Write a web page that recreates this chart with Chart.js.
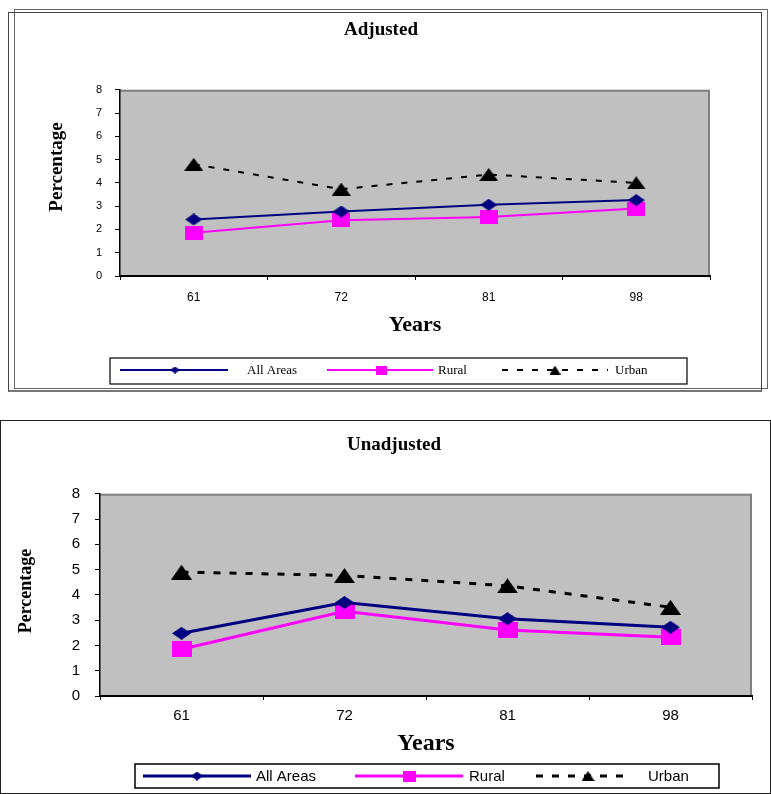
<!DOCTYPE html>
<html>
<head>
<meta charset="utf-8">
<script src="https://cdn.jsdelivr.net/npm/chart.js@4.4.0/dist/chart.umd.min.js"></script>
<style>
  body { margin: 0; background: #fff; width: 771px; height: 794px; position: relative; overflow: hidden; }
  .frame { position: absolute; box-sizing: border-box; }
  .holder { position: absolute; }
</style>
</head>
<body>
<div class="frame" style="left:14px;top:9px;width:754px;height:380px;border:1px solid #666;"></div>
<div class="frame" style="left:8px;top:12px;width:754px;height:380px;border:1px solid #444;border-bottom:2px solid #777;"></div>
<div class="holder" style="left:15px;top:13px;"><canvas id="adj" width="697" height="376"></canvas></div>

<div class="frame" style="left:0;top:420px;width:771px;height:374px;border:1.5px solid #222;"></div>
<div class="holder" style="left:2px;top:422px;"><canvas id="unadj" width="752" height="370"></canvas></div>

<script>
'use strict';

// years on the x axis
const years = ['61', '72', '81', '98'];
const seriesNames = ['All Areas', 'Rural', 'Urban'];

// Adjusted (%)
const adjAll   = [2.43, 2.77, 3.06, 3.26];
const adjRural = [1.86, 2.40, 2.54, 2.90];
const adjUrban = [4.80, 3.73, 4.36, 4.00];

// Unadjusted (%)
const unAll   = [2.48, 3.70, 3.06, 2.72];
const unRural = [1.85, 3.35, 2.61, 2.32];
const unUrban = [4.90, 4.77, 4.36, 3.51];

const NAVY = '#000080', PINK = '#FF00FF', BLACK = '#000000';
const SERIF = '"Liberation Serif", "Times New Roman", serif';
const SANS  = '"Liberation Sans", Arial, sans-serif';

// excel-like markers, a bit wider than tall
function marker(kind, w, h, color) {
  const c = document.createElement('canvas');
  c.width = w; c.height = h;
  const x = c.getContext('2d');
  x.fillStyle = color;
  x.beginPath();
  if (kind === 'diamond') {
    x.moveTo(w / 2, 0); x.lineTo(w, h / 2); x.lineTo(w / 2, h); x.lineTo(0, h / 2);
  } else if (kind === 'square') {
    x.rect(0, 0, w, h);
  } else {
    x.moveTo(w / 2, 0); x.lineTo(w, h); x.lineTo(0, h);
  }
  x.closePath();
  x.fill();
  return c;
}

// grey plot area with grey top/right edge
const plotBg = {
  id: 'plotBg',
  beforeDraw(chart) {
    const { ctx, chartArea: a } = chart;
    ctx.save();
    ctx.fillStyle = '#C0C0C0';
    ctx.fillRect(a.left, a.top, a.right - a.left, a.bottom - a.top);
    ctx.strokeStyle = '#808080';
    ctx.lineWidth = 2;
    ctx.beginPath();
    ctx.moveTo(a.left, a.top + 1);
    ctx.lineTo(a.right - 1, a.top + 1);
    ctx.lineTo(a.right - 1, a.bottom);
    ctx.stroke();
    ctx.restore();
  }
};

// rotated y title + boxed legend, drawn after the chart
function extras(cfg) {
  return {
    id: 'extras',
    afterDraw(chart) {
      const ctx = chart.ctx;
      ctx.save();
      // y title
      ctx.translate(cfg.yTitle.x, cfg.yTitle.y);
      ctx.rotate(-Math.PI / 2);
      ctx.font = cfg.yTitle.font;
      ctx.fillStyle = '#000';
      ctx.textAlign = 'center';
      ctx.textBaseline = 'middle';
      ctx.fillText('Percentage', 0, 0);
      ctx.restore();

      // legend box
      const L = cfg.legend;
      ctx.save();
      ctx.fillStyle = '#fff';
      ctx.fillRect(L.x0, L.y0, L.x1 - L.x0, L.y1 - L.y0);
      ctx.strokeStyle = '#000';
      ctx.lineWidth = L.border;
      ctx.strokeRect(L.x0, L.y0, L.x1 - L.x0, L.y1 - L.y0);
      chart.data.datasets.forEach((ds, i) => {
        const it = L.items[i];
        ctx.strokeStyle = ds.borderColor;
        ctx.lineWidth = L.lineWidth;
        ctx.setLineDash(ds.borderDash || []);
        ctx.beginPath();
        ctx.moveTo(it[0], L.ly);
        ctx.lineTo(it[1], L.ly);
        ctx.stroke();
        ctx.setLineDash([]);
        const m = L.marks[i];
        ctx.drawImage(m, it[2] - m.width / 2, L.ly - m.height / 2);
        ctx.fillStyle = '#000';
        ctx.font = L.font;
        ctx.textAlign = 'left';
        ctx.textBaseline = 'middle';
        ctx.fillText(ds.label, it[3], L.ly + 1);
      });
      ctx.restore();
    }
  };
}

function makeChart(id, s) {
  const datasets = [
    { label: seriesNames[0], data: s.all,   borderColor: NAVY,  pointStyle: s.pts[0] },
    { label: seriesNames[1], data: s.rural, borderColor: PINK,  pointStyle: s.pts[1] },
    { label: seriesNames[2], data: s.urban, borderColor: BLACK, pointStyle: s.pts[2], borderDash: s.dash }
  ].map(d => Object.assign(d, {
    borderWidth: s.lw, tension: 0, fill: false,
    backgroundColor: d.borderColor, pointRadius: 8, pointHoverRadius: 8
  }));

  return new Chart(document.getElementById(id), {
    type: 'line',
    data: { labels: years, datasets },
    options: {
      responsive: false,
      animation: false,
      layout: { autoPadding: false, padding: { left: s.padLeft, right: 2, top: 0, bottom: 0 } },
      plugins: {
        legend: { display: false },
        tooltip: { enabled: false },
        title: {
          display: true, text: s.title, color: '#000',
          font: { family: SERIF, size: 19, weight: 'bold' },
          padding: s.titlePad
        }
      },
      scales: {
        x: {
          offset: true,
          afterFit: sc => { sc.height = s.xHeight; sc.paddingLeft = 0; sc.paddingRight = 0; },
          grid: { offset: true, drawOnChartArea: false, drawTicks: true, tickLength: 4, color: '#000' },
          border: { display: true, color: '#000', width: 2 },
          ticks: { color: '#000', padding: s.xTickPad, font: { family: SANS, size: s.xTickSize } },
          title: {
            display: true, text: 'Years', color: '#000',
            font: { family: SERIF, size: s.yearsSize, weight: 'bold' },
            padding: { top: 0, bottom: s.yearsPad }
          }
        },
        y: {
          min: 0, max: 8,
          afterFit: sc => { sc.width = s.yWidth; },
          grid: { drawOnChartArea: false, drawTicks: true, tickLength: 5, color: '#000' },
          border: { display: true, color: '#000', width: 1.5 },
          ticks: { stepSize: 1, color: '#000', padding: s.yTickPad, font: { family: SANS, size: s.yTickSize } }
        }
      }
    },
    plugins: [plotBg, extras(s.extra)]
  });
}

makeChart('adj', {
  title: 'Adjusted',
  all: adjAll, rural: adjRural, urban: adjUrban,
  pts: [marker('diamond', 17, 12, NAVY), marker('square', 18, 14, PINK), marker('tri', 19, 13, BLACK)],
  dash: [6, 9], lw: 2,
  padLeft: 37, yWidth: 68, xHeight: 113,
  titlePad: { top: 6, bottom: 48 },
  xTickSize: 12, yTickSize: 11, xTickPad: 10, yTickPad: 13,
  yearsSize: 22, yearsPad: 50,
  extra: {
    yTitle: { x: 42, y: 154, font: 'bold 19px ' + SERIF },
    legend: {
      x0: 95, x1: 672, y0: 345, y1: 371, ly: 357, border: 1.2, lineWidth: 2,
      font: '13px ' + SERIF,
      items: [[105, 213, 160, 232], [312, 418, 366, 423], [487, 593, 540, 600]],
      marks: [marker('diamond', 10, 7, NAVY), marker('square', 11, 9, PINK), marker('tri', 11, 9, BLACK)]
    }
  }
});

makeChart('unadj', {
  title: 'Unadjusted',
  all: unAll, rural: unRural, urban: unUrban,
  pts: [marker('diamond', 19, 13, NAVY), marker('square', 20, 16, PINK), marker('tri', 21, 15, BLACK)],
  dash: [7, 9], lw: 3,
  padLeft: 34, yWidth: 64, xHeight: 96,
  titlePad: { top: 12, bottom: 37 },
  xTickSize: 15, yTickSize: 15, xTickPad: 7, yTickPad: 15,
  yearsSize: 24, yearsPad: 34,
  extra: {
    yTitle: { x: 24, y: 169, font: 'bold 18px ' + SERIF },
    legend: {
      x0: 133, x1: 717, y0: 342, y1: 366, ly: 354, border: 1.5, lineWidth: 3,
      font: '15px ' + SANS,
      items: [[141, 249, 195, 254], [353, 461, 407, 467], [534, 626, 586, 646]],
      marks: [marker('diamond', 12, 9, NAVY), marker('square', 13, 11, PINK), marker('tri', 13, 10, BLACK)]
    }
  }
});
</script>
</body>
</html>
